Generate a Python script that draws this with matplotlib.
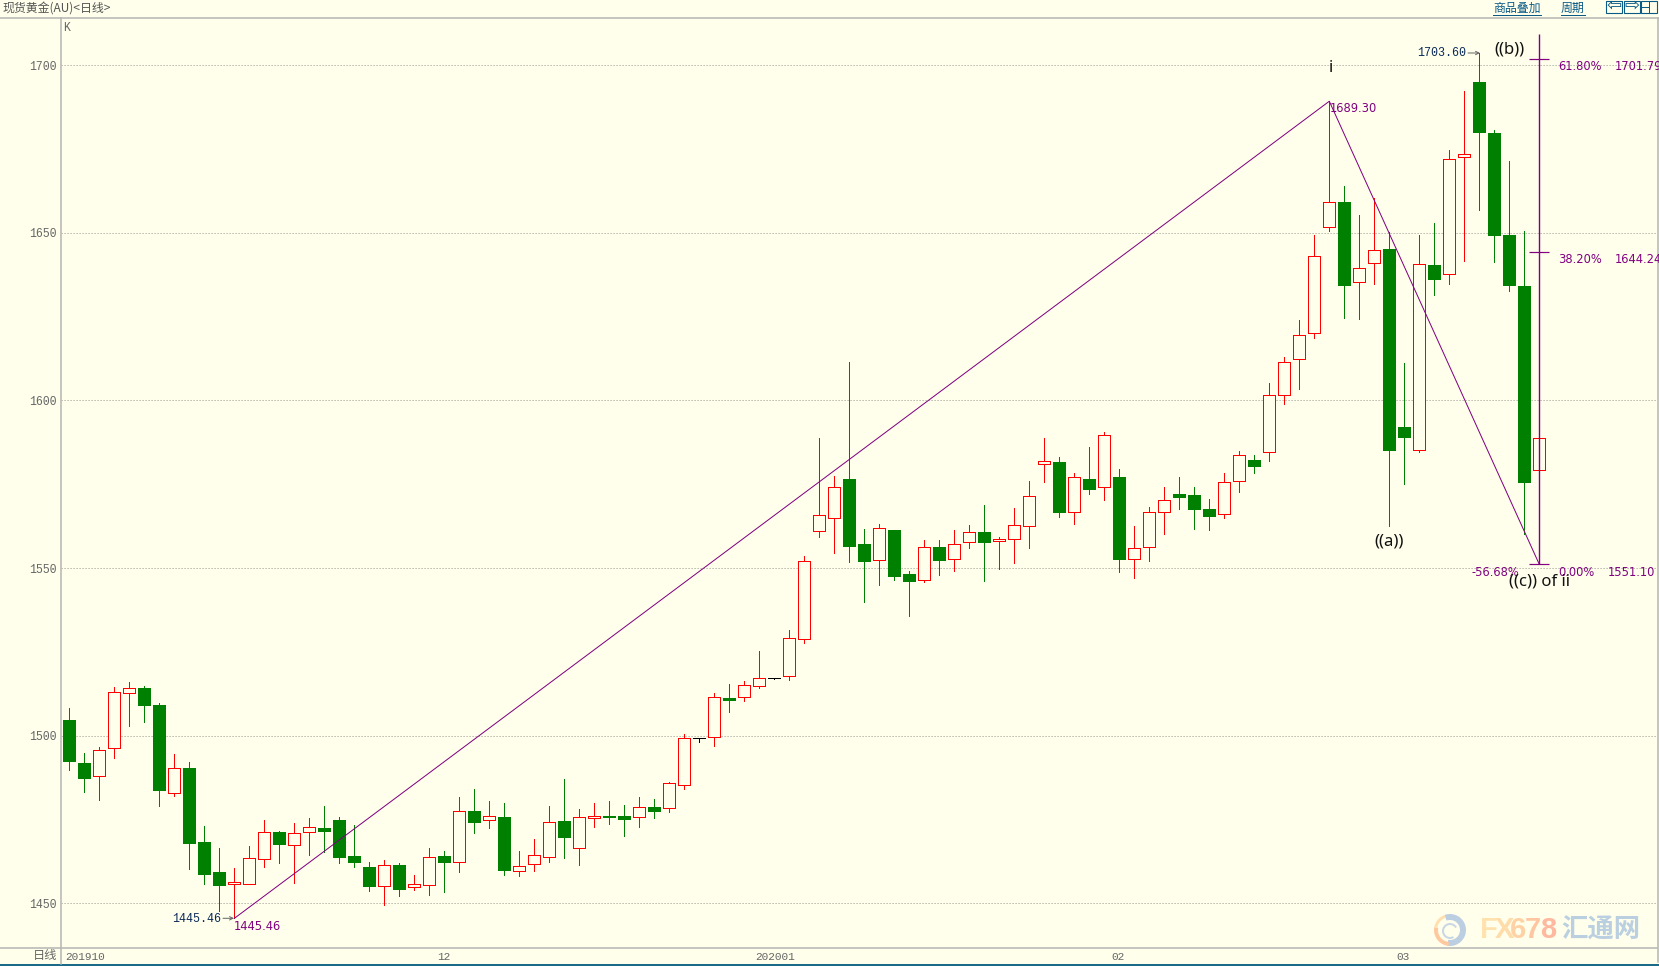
import numpy as np
import matplotlib
matplotlib.use("Agg")
import matplotlib.pyplot as plt
from matplotlib.patches import Rectangle, Wedge
from matplotlib.transforms import ScaledTranslation

# daily gold candles
opens = [1504.66, 1491.82, 1487.84, 1496.40, 1512.61, 1514.20, 1509.13, 1482.77, 1490.33, 1468.25,
         1459.30, 1455.62, 1455.62, 1463.08, 1471.23, 1467.25, 1471.13, 1472.43, 1474.81, 1464.07,
         1460.79, 1455.02, 1461.39, 1454.72, 1455.32, 1464.07, 1462.18, 1477.50, 1474.71, 1475.71,
         1459.49, 1461.58, 1463.67, 1474.52, 1466.36, 1475.31, 1476.01, 1476.01, 1475.61, 1478.69,
         1478.30, 1485.16, 1499.18, 1499.48, 1511.12, 1511.42, 1514.70, 1517.09, 1517.69, 1528.72,
         1560.95, 1564.83, 1576.57, 1557.17, 1552.30, 1561.35, 1548.22, 1546.33, 1556.28, 1552.60,
         1557.67, 1560.75, 1558.17, 1558.57, 1562.45, 1580.95, 1581.64, 1566.82, 1576.57, 1574.08,
         1577.17, 1552.60, 1556.18, 1566.62, 1572.09, 1571.80, 1567.62, 1566.03, 1575.87, 1582.24,
         1584.53, 1601.54, 1612.24, 1620.05, 1651.68, 1659.24, 1635.27, 1640.94, 1645.22, 1592.09,
         1585.13, 1640.44, 1637.66, 1672.57, 1695.05, 1679.83, 1649.39, 1634.17, 1579.16]
closes = [1492.52, 1487.45, 1495.60, 1512.91, 1514.11, 1509.23, 1483.87, 1490.23, 1468.05, 1458.80,
          1455.52, 1456.21, 1463.38, 1471.13, 1467.75, 1470.84, 1472.63, 1471.63, 1463.87, 1462.38,
          1455.22, 1461.29, 1454.32, 1455.62, 1463.67, 1462.38, 1477.40, 1474.32, 1475.91, 1459.99,
          1460.99, 1464.27, 1474.12, 1469.84, 1475.61, 1475.91, 1475.81, 1475.21, 1478.59, 1477.60,
          1485.76, 1499.18, 1499.18, 1511.42, 1510.72, 1515.00, 1517.09, 1517.09, 1529.04, 1552.00,
          1565.73, 1574.08, 1556.68, 1552.20, 1561.85, 1547.72, 1546.23, 1556.18, 1552.50, 1557.07,
          1560.66, 1557.87, 1558.57, 1562.74, 1571.40, 1581.84, 1566.82, 1577.07, 1573.69, 1589.60,
          1552.80, 1555.88, 1566.62, 1570.20, 1571.30, 1567.72, 1565.63, 1575.57, 1583.63, 1580.55,
          1601.54, 1611.39, 1619.46, 1643.02, 1659.14, 1634.57, 1639.45, 1644.82, 1585.33, 1589.21,
          1640.64, 1636.26, 1671.97, 1673.47, 1680.23, 1649.39, 1634.57, 1575.78, 1588.71]
highs = [1508.14, 1494.71, 1496.50, 1514.50, 1516.00, 1514.80, 1509.63, 1494.51, 1492.12, 1473.02,
         1466.46, 1460.49, 1467.06, 1474.81, 1471.43, 1473.92, 1475.41, 1478.99, 1475.71, 1473.32,
         1462.28, 1462.88, 1461.98, 1458.40, 1466.46, 1465.56, 1481.68, 1484.06, 1480.48, 1479.89,
         1465.56, 1469.14, 1478.99, 1487.05, 1478.10, 1479.89, 1480.48, 1479.29, 1481.68, 1481.08,
         1486.15, 1500.48, 1499.18, 1512.71, 1515.40, 1516.29, 1525.25, 1517.09, 1531.51, 1553.59,
         1588.80, 1577.47, 1611.48, 1561.65, 1563.14, 1561.35, 1549.12, 1558.37, 1558.37, 1561.35,
         1562.84, 1568.81, 1559.16, 1567.92, 1575.97, 1588.80, 1583.14, 1578.36, 1586.12, 1590.60,
         1579.55, 1562.55, 1568.21, 1574.18, 1577.17, 1574.18, 1570.60, 1578.36, 1584.93, 1583.73,
         1605.22, 1612.98, 1624.02, 1649.39, 1689.30, 1664.01, 1655.36, 1660.34, 1650.19, 1611.19,
         1649.39, 1652.97, 1674.76, 1692.36, 1703.60, 1680.63, 1671.47, 1650.59, 1588.71]
lows = [1489.73, 1483.27, 1480.88, 1493.42, 1502.96, 1504.16, 1479.09, 1482.08, 1460.19, 1455.82,
        1447.76, 1445.46, 1455.62, 1460.89, 1462.08, 1456.11, 1464.47, 1465.37, 1462.08, 1460.89,
        1453.73, 1449.55, 1452.23, 1453.93, 1452.53, 1453.43, 1459.40, 1471.03, 1472.53, 1458.50,
        1458.20, 1459.69, 1462.38, 1463.57, 1461.48, 1472.82, 1473.72, 1470.14, 1472.82, 1475.51,
        1477.30, 1484.16, 1498.19, 1497.00, 1507.14, 1510.42, 1514.30, 1517.00, 1516.69, 1527.73,
        1559.36, 1554.59, 1551.90, 1539.96, 1545.04, 1546.53, 1535.79, 1545.93, 1548.02, 1549.22,
        1556.08, 1546.23, 1549.81, 1551.60, 1556.08, 1575.77, 1565.33, 1563.24, 1572.19, 1570.40,
        1548.92, 1547.13, 1552.20, 1560.26, 1567.72, 1561.75, 1561.45, 1565.03, 1572.79, 1578.46,
        1582.04, 1599.05, 1603.52, 1618.75, 1650.68, 1624.72, 1624.33, 1634.77, 1562.65, 1575.18,
        1584.73, 1631.49, 1634.87, 1641.73, 1656.85, 1641.43, 1632.78, 1560.16, 1579.16]

ytick_values = [1450, 1500, 1550, 1600, 1650, 1700]
xtick_index = [0, 25, 46, 70, 89]
xtick_labels = ["201910", "12", "202001", "02", "03"]

# wave line and fibonacci ruler
wave_index = [11, 84, 98]
wave_price = [1445.46, 1689.30, 1551.10]
fib_index = 98
fib_top = 1709.4
fib_prices = [1701.79, 1644.24, 1551.10]

W, H = 1659, 966
BG = "#ffffec"
GRID = "#a8a8a0"
FRAME = "#b4b4b4"
RED = "#ff0000"
GREEN = "#008000"
PURPLE = "#800080"
NAVY = "#0a2a5a"
LINK = "#0b5a86"
GRAY = "#666666"
CJK = ["Noto Sans CJK SC", "DejaVu Sans"]
MONO = "Liberation Mono"
LABEL = "Noto Sans"
PX = 72.0 / 100  # one pixel in points

fig = plt.figure(figsize=(W / 100, H / 100), dpi=100, facecolor=BG)

# axes box in pixels
left, right, top, bottom = 61.4, 1657.0, 17.5, 948.3
ax = fig.add_axes([left / W, 1 - bottom / H, (right - left) / W, (bottom - top) / H])
ax.set_facecolor(BG)
ax.set_xlim((left - 69.3) / 15, (right - 69.3) / 15)
ax.set_ylim(1436.53, 1714.29)
for s in ax.spines.values():
    s.set_visible(False)

ax.set_yticks(ytick_values)
ax.set_yticklabels([str(v) for v in ytick_values], family=MONO, fontsize=8.3, color=GRAY)
ax.set_xticks(xtick_index)
ax.set_xticklabels(xtick_labels, family=MONO, fontsize=8.0, color=GRAY)
ax.tick_params(axis="both", length=0)
ax.tick_params(axis="y", pad=3.5)
ax.tick_params(axis="x", pad=2.5)
for lbl, dx in zip(ax.get_xticklabels(), [-4, -7, -4, -8, -8]):
    lbl.set_ha("left")
    lbl.set_transform(lbl.get_transform() + ScaledTranslation(dx / 100, 0, fig.dpi_scale_trans))

ax.grid(axis="y", color=GRID, linestyle=(0, (1.2, 1.8)), linewidth=PX, zorder=0)
ax.set_axisbelow(True)

# candles
x = np.arange(len(opens))
o = np.array(opens)
c = np.array(closes)
colors = [RED if b > a else GREEN if b < a else "black" for a, b in zip(o, c)]
faces = [BG if b > a else GREEN if b < a else "black" for a, b in zip(o, c)]
ax.vlines(x, lows, highs, colors=colors, linewidth=PX, zorder=2, antialiased=False)
ax.bar(x, c - o, bottom=o, width=12.2 / 15, color=faces, edgecolor=colors,
       linewidth=PX, zorder=3, antialiased=False)

ax.plot(wave_index, wave_price, color=PURPLE, linewidth=PX, zorder=4)

# fibonacci ruler
ax.vlines(fib_index, fib_prices[-1], fib_top, colors=PURPLE, linewidth=1.4 * PX, zorder=4)
ax.hlines(fib_prices, fib_index - 0.67, fib_index + 0.65, colors=PURPLE, linewidth=1.2 * PX, zorder=4)

# everything around the plot is placed in pixels on a second axes
ov = fig.add_axes([0, 0, 1, 1])
ov.set_xlim(0, W)
ov.set_ylim(H, 0)
ov.axis("off")
ov.patch.set_visible(False)

ov.plot([0, W], [top, top], color=FRAME, linewidth=1.5 * PX)
ov.plot([0, right], [bottom, bottom], color=FRAME, linewidth=1.5 * PX)
ov.plot([left, left], [top, 964], color=FRAME, linewidth=1.5 * PX)
ov.plot([right + 0.5, right + 0.5], [top, 962], color=FRAME, linewidth=1.5 * PX)
ov.add_patch(Rectangle((0, 964), W, 2, color="#1a6a8a", linewidth=0))

ov.text(2, 8.5, "现货黄金(AU)<日线>", family=CJK, fontsize=8.6, color="#555555", va="center")
ov.text(63.5, 28, "K", family=MONO, fontsize=8.3, color=GRAY, va="center")
ov.text(33, 956, "日线", family=CJK, fontsize=8.8, color=GRAY, va="center")

# links and buttons in the title bar
ov.text(1493, 8, "商品叠加", family=CJK, fontsize=8.6, color=LINK, va="center")
ov.plot([1493, 1541], [14.5, 14.5], color=LINK, linewidth=PX)
ov.text(1561, 8, "周期", family=CJK, fontsize=8.6, color=LINK, va="center")
ov.plot([1561, 1585], [14.5, 14.5], color=LINK, linewidth=PX)
for bx in (1606, 1624, 1641):
    ov.add_patch(Rectangle((bx, 0.5), 15.5, 12.5, fill=False, edgecolor=LINK, linewidth=1.1 * PX))
ov.text(1613.8, 6, "\u21e6", family="DejaVu Sans", fontsize=13, color=LINK, ha="center", va="center")
ov.text(1631.8, 6, "\u21e8", family="DejaVu Sans", fontsize=13, color=LINK, ha="center", va="center")
ov.plot([1649, 1649], [0.5, 13], color=LINK, linewidth=PX)
ov.plot([1641, 1649], [6.5, 6.5], color=LINK, linewidth=PX)

# price and ratio labels
for tx, ty, s in [(234, 926.5, "1445.46"), (1330, 108, "1689.30"), (1558.3, 66.5, "61.80%"),
                  (1615, 66.5, "1701.79"), (1558.3, 259.8, "38.20%"), (1615, 259.8, "1644.24"),
                  (1471, 572.5, "-56.68%"), (1558.3, 572.5, "0.00%"), (1608, 572.5, "1551.10")]:
    t = ov.text(tx, ty, s, family="DejaVu Sans", fontsize=8.3, color=PURPLE, va="center")
    t.set_clip_path(Rectangle((0, 0), right, H, transform=ov.transData))

for tx, ty, s in [(172, 919, "1445.46"), (1417, 53.5, "1703.60")]:
    ov.text(tx, ty, s, family=MONO, fontsize=8.4, color=NAVY, va="center")
for x0, x1, ty in [(223, 234, 918.3), (1468, 1480, 53)]:
    ov.annotate("", xy=(x1, ty), xytext=(x0, ty),
                arrowprops=dict(arrowstyle="->", color=GRAY, linewidth=PX, mutation_scale=6,
                                shrinkA=0, shrinkB=0))

# wave labels
ov.text(1330.7, 68, "i", family=LABEL, fontsize=12, color="#111111", ha="center", va="center")
ov.text(1494, 50, "((b))", family=LABEL, fontsize=12, color="#111111", va="center")
ov.text(1374, 541, "((a))", family=LABEL, fontsize=12, color="#111111", va="center")
ov.text(1509, 582, "((c)) of ii", family=LABEL, fontsize=12, color="#111111", va="center")

# watermark
ov.add_patch(Wedge((1450, 930), 16, -110, 100, width=6, color="#bccfe2", linewidth=0))
ov.add_patch(Wedge((1450, 930), 16, 95, 190, width=4, color="#ffc9a0", linewidth=0))
ov.add_patch(Wedge((1450, 930), 16, 190, 250, width=3, color="#ffe0b0", linewidth=0))
ov.add_patch(Wedge((1450, 931), 8, 60, 330, width=2, color="#c9d7e4", linewidth=0))
wm_colors = ["#ffe2ae", "#ffdcaa", "#ffd2a6", "#ffc6a2", "#ffb9a0"]
for k, ch in enumerate("FX678"):
    ov.text(1480 + k * 15, 930, ch, family="Liberation Sans", weight="bold", fontsize=21,
            color=wm_colors[k], va="center")
ov.text(1601, 930, "汇通网", family=CJK, weight="bold", fontsize=19, color="#bacfe0",
        ha="center", va="center")

fig.savefig("out.png", dpi=100, facecolor=BG)
